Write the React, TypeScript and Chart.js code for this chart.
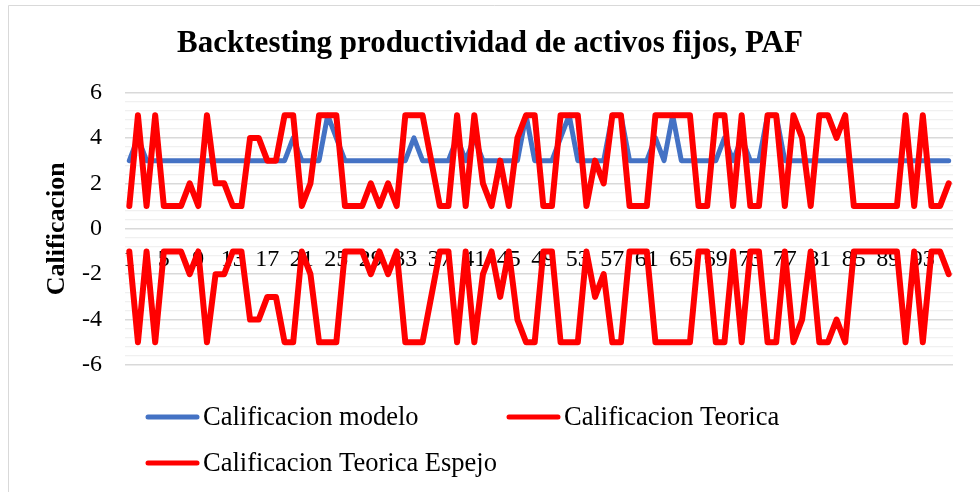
import React, { useEffect, useRef } from 'react';
import { Chart, registerables } from 'chart.js';

Chart.register(...registerables);

const TITLE = 'Backtesting productividad de activos fijos, PAF';
const Y_TITLE = 'Calificacion';

const categories = [
  '1', '2', '3', '4', '5', '6', '7', '8', '9', '10', '11', '12', '13', '14', '15', '16',
  '17', '18', '19', '20', '21', '22', '23', '24', '25', '26', '27', '28', '29', '30', '31', '32',
  '33', '34', '35', '36', '37', '38', '39', '40', '41', '42', '43', '44', '45', '46', '47', '48',
  '49', '50', '51', '52', '53', '54', '55', '56', '57', '58', '59', '60', '61', '62', '63', '64',
  '65', '66', '67', '68', '69', '70', '71', '72', '73', '74', '75', '76', '77', '78', '79', '80',
  '81', '82', '83', '84', '85', '86', '87', '88', '89', '90', '91', '92', '93', '94', '95', '96',
];

const seriesNames = ['Calificacion modelo', 'Calificacion Teorica', 'Calificacion Teorica Espejo'];

const modelo = [
  3, 4, 3, 3, 3, 3, 3, 3, 3, 3, 3, 3, 3, 3, 3, 3,
  3, 3, 3, 4, 3, 3, 3, 5, 4, 3, 3, 3, 3, 3, 3, 3,
  3, 4, 3, 3, 3, 3, 4, 3, 4, 3, 3, 3, 3, 3, 5, 3,
  3, 3, 4, 5, 3, 3, 3, 3, 5, 5, 3, 3, 3, 4, 3, 5,
  3, 3, 3, 3, 3, 4, 3, 4, 3, 3, 5, 5, 3, 3, 3, 3,
  3, 3, 3, 3, 3, 3, 3, 3, 3, 3, 3, 3, 3, 3, 3, 3,
];

const teorica = [
  1, 5, 1, 5, 1, 1, 1, 2, 1, 5, 2, 2, 1, 1, 4, 4,
  3, 3, 5, 5, 1, 2, 5, 5, 5, 1, 1, 1, 2, 1, 2, 1,
  5, 5, 5, 3, 1, 1, 5, 1, 5, 2, 1, 3, 1, 4, 5, 5,
  1, 1, 5, 5, 5, 1, 3, 2, 5, 5, 1, 1, 1, 5, 5, 5,
  5, 5, 1, 1, 5, 5, 1, 5, 1, 1, 5, 5, 1, 5, 4, 1,
  5, 5, 4, 5, 1, 1, 1, 1, 1, 1, 5, 1, 5, 1, 1, 2,
];

const espejo = [
  -1, -5, -1, -5, -1, -1, -1, -2, -1, -5, -2, -2, -1, -1, -4, -4,
  -3, -3, -5, -5, -1, -2, -5, -5, -5, -1, -1, -1, -2, -1, -2, -1,
  -5, -5, -5, -3, -1, -1, -5, -1, -5, -2, -1, -3, -1, -4, -5, -5,
  -1, -1, -5, -5, -5, -1, -3, -2, -5, -5, -1, -1, -1, -5, -5, -5,
  -5, -5, -1, -1, -5, -5, -1, -5, -1, -1, -5, -5, -1, -5, -4, -1,
  -5, -5, -4, -5, -1, -1, -1, -1, -1, -1, -5, -1, -5, -1, -1, -2,
];

const yMajorTicks = [-6, -4, -2, 0, 2, 4, 6];
const xLabelEvery = 4;

const FONT = "'Liberation Serif', 'Times New Roman', serif";
const BLUE = '#4472C4';
const RED = '#FF0000';

const frameAndLegend = {
  id: 'frameAndLegend',
  beforeDraw(chart: any) {
    const ctx = chart.ctx;
    ctx.save();
    ctx.fillStyle = '#ffffff';
    ctx.fillRect(0, 0, chart.width, chart.height);
    ctx.strokeStyle = '#d9d9d9';
    ctx.lineWidth = 1;
    ctx.beginPath();
    ctx.moveTo(8.5, chart.height);
    ctx.lineTo(8.5, 5.5);
    ctx.lineTo(chart.width, 5.5);
    ctx.stroke();
    ctx.restore();
  },
  afterDraw(chart: any) {
    const ctx = chart.ctx;
    const slots = [
      { ds: 0, x: 145, y: 417 },
      { ds: 1, x: 506, y: 417 },
      { ds: 2, x: 145, y: 463 },
    ];
    ctx.save();
    ctx.font = `26.5px ${FONT}`;
    ctx.textBaseline = 'middle';
    ctx.textAlign = 'left';
    slots.forEach(({ ds, x, y }) => {
      const d = chart.data.datasets[ds];
      ctx.strokeStyle = d.borderColor;
      ctx.lineWidth = 5;
      ctx.lineCap = 'round';
      ctx.beginPath();
      ctx.moveTo(x + 3, y);
      ctx.lineTo(x + 52, y);
      ctx.stroke();
      ctx.fillStyle = '#000000';
      ctx.fillText(d.label, x + 58, y + 1);
    });
    ctx.restore();
  },
};

const isMajor = (v: number) =>
  yMajorTicks.some((m) => Math.abs(m - v) < 1e-6);

export default function App() {
  const ref = useRef<HTMLCanvasElement | null>(null);

  useEffect(() => {
    if (!ref.current) return;
    const chart = new Chart(ref.current, {
      type: 'line',
      data: {
        labels: categories,
        datasets: [
          {
            label: seriesNames[0],
            data: modelo,
            borderColor: BLUE,
            backgroundColor: BLUE,
            borderWidth: 5,
            pointRadius: 0,
            tension: 0,
            borderJoinStyle: 'round',
            borderCapStyle: 'round',
            order: 3,
          },
          {
            label: seriesNames[1],
            data: teorica,
            borderColor: RED,
            backgroundColor: RED,
            borderWidth: 6,
            pointRadius: 0,
            tension: 0,
            borderJoinStyle: 'round',
            borderCapStyle: 'round',
            order: 2,
          },
          {
            label: seriesNames[2],
            data: espejo,
            borderColor: RED,
            backgroundColor: RED,
            borderWidth: 6,
            pointRadius: 0,
            tension: 0,
            borderJoinStyle: 'round',
            borderCapStyle: 'round',
            order: 1,
          },
        ],
      },
      options: {
        responsive: false,
        animation: false,
        layout: { padding: { left: 27, right: 27, top: 0, bottom: 127 } },
        plugins: {
          legend: { display: false },
          tooltip: { enabled: false },
          title: {
            display: true,
            text: TITLE,
            color: '#000000',
            font: { family: FONT, size: 31, weight: 'bold' },
            padding: { top: 25.5, bottom: 29.8 },
          },
        },
        scales: {
          x: {
            type: 'category',
            offset: true,
            position: { y: 0 },
            grid: { display: false, drawTicks: false },
            border: { display: false },
            ticks: {
              autoSkip: false,
              maxRotation: 0,
              minRotation: 0,
              padding: 17,
              color: '#000000',
              font: { family: FONT, size: 24 },
              callback: (_v: any, i: number) =>
                i % xLabelEvery === 0 ? categories[i] : '',
            },
            afterFit: (s: any) => {
              s.height = 0;
            },
          },
          y: {
            min: -6,
            max: 6,
            grid: {
              drawTicks: false,
              color: (c: any) => (isMajor(c.tick.value) ? '#d9d9d9' : '#f0f0f0'),
              lineWidth: (c: any) => (isMajor(c.tick.value) ? 1.5 : 1.2),
            },
            border: { display: false },
            ticks: {
              stepSize: 0.4,
              autoSkip: false,
              padding: 23,
              color: '#000000',
              font: { family: FONT, size: 24 },
              callback: (v: any) => (isMajor(Number(v)) ? String(Math.round(Number(v))) : ''),
            },
            title: {
              display: true,
              text: Y_TITLE,
              color: '#000000',
              font: { family: FONT, size: 26, weight: 'bold' },
              padding: { top: 15, bottom: 0 },
            },
            afterFit: (s: any) => {
              s.width = 98;
            },
          },
        },
      },
      plugins: [frameAndLegend],
    });
    return () => chart.destroy();
  }, []);

  return (
    <div style={{ position: 'absolute', left: 0, top: 0, width: 980, height: 492 }}>
      <canvas ref={ref} width={980} height={492} />
    </div>
  );
}
